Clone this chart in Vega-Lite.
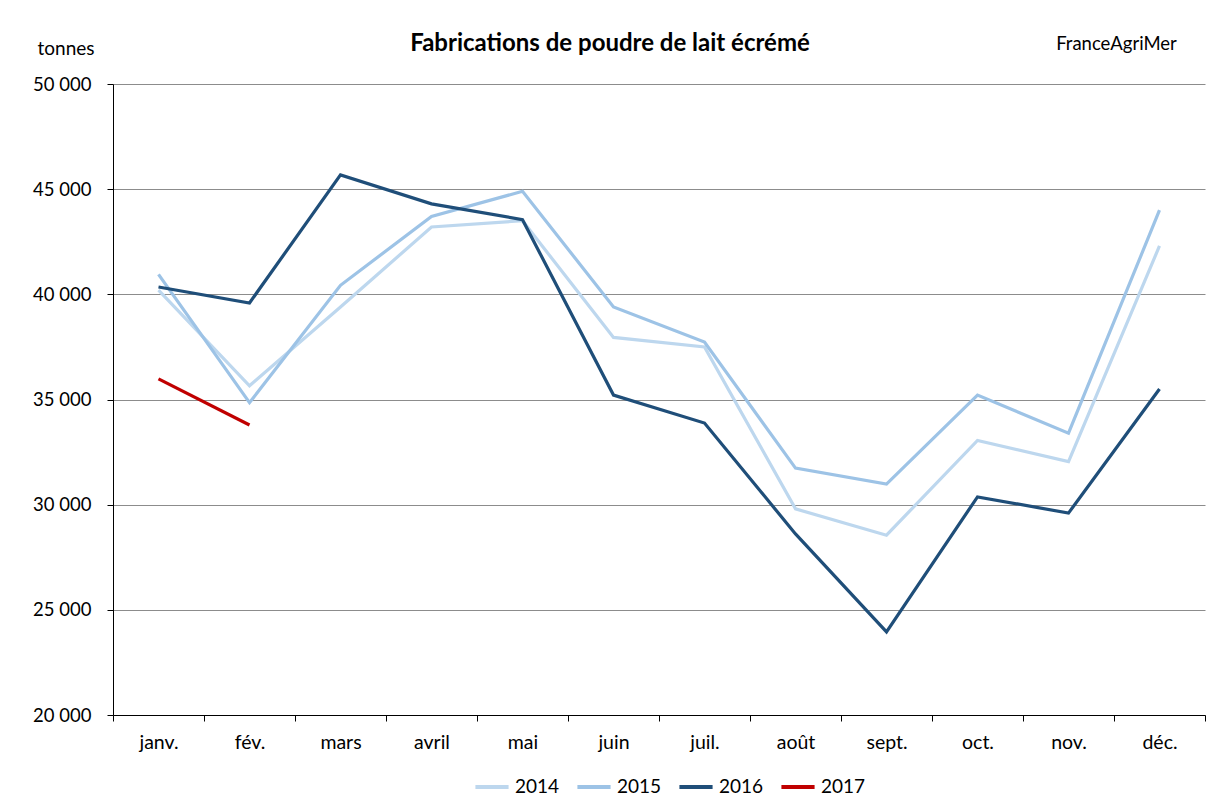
{
  "$schema": "https://vega.github.io/schema/vega-lite/v6.json",
  "width": 1092,
  "height": 631,
  "autosize": {"type": "none"},
  "padding": {"left": 113, "top": 84, "right": 1, "bottom": 92},
  "background": "white",
  "title": {
    "text": "Fabrications de poudre de lait écrémé",
    "font": "Lato",
    "fontSize": 24,
    "fontWeight": "bold",
    "color": "#000000",
    "anchor": "middle",
    "dx": -49,
    "offset": -22
  },
  "data": {
    "values": [
      {"mois": "janv.", "annee": "2014", "v": 40200},
      {"mois": "fév.", "annee": "2014", "v": 35650},
      {"mois": "mars", "annee": "2014", "v": 39400},
      {"mois": "avril", "annee": "2014", "v": 43200},
      {"mois": "mai", "annee": "2014", "v": 43500},
      {"mois": "juin", "annee": "2014", "v": 37950},
      {"mois": "juil.", "annee": "2014", "v": 37500},
      {"mois": "août", "annee": "2014", "v": 29800},
      {"mois": "sept.", "annee": "2014", "v": 28550},
      {"mois": "oct.", "annee": "2014", "v": 33050},
      {"mois": "nov.", "annee": "2014", "v": 32050},
      {"mois": "déc.", "annee": "2014", "v": 42300},
      {"mois": "janv.", "annee": "2015", "v": 40950},
      {"mois": "fév.", "annee": "2015", "v": 34850},
      {"mois": "mars", "annee": "2015", "v": 40430},
      {"mois": "avril", "annee": "2015", "v": 43700},
      {"mois": "mai", "annee": "2015", "v": 44900},
      {"mois": "juin", "annee": "2015", "v": 39400},
      {"mois": "juil.", "annee": "2015", "v": 37730},
      {"mois": "août", "annee": "2015", "v": 31740},
      {"mois": "sept.", "annee": "2015", "v": 30980},
      {"mois": "oct.", "annee": "2015", "v": 35210},
      {"mois": "nov.", "annee": "2015", "v": 33400},
      {"mois": "déc.", "annee": "2015", "v": 44000},
      {"mois": "janv.", "annee": "2016", "v": 40350},
      {"mois": "fév.", "annee": "2016", "v": 39590},
      {"mois": "mars", "annee": "2016", "v": 45680},
      {"mois": "avril", "annee": "2016", "v": 44300},
      {"mois": "mai", "annee": "2016", "v": 43550},
      {"mois": "juin", "annee": "2016", "v": 35210},
      {"mois": "juil.", "annee": "2016", "v": 33880},
      {"mois": "août", "annee": "2016", "v": 28610},
      {"mois": "sept.", "annee": "2016", "v": 23950},
      {"mois": "oct.", "annee": "2016", "v": 30370},
      {"mois": "nov.", "annee": "2016", "v": 29600},
      {"mois": "déc.", "annee": "2016", "v": 35500},
      {"mois": "janv.", "annee": "2017", "v": 35980},
      {"mois": "fév.", "annee": "2017", "v": 33790}
    ]
  },
  "mark": {"type": "line", "strokeWidth": 3.2, "strokeCap": "butt", "strokeJoin": "miter"},
  "encoding": {
    "x": {
      "field": "mois",
      "type": "ordinal",
      "sort": ["janv.", "fév.", "mars", "avril", "mai", "juin", "juil.", "août", "sept.", "oct.", "nov.", "déc."],
      "scale": {"type": "band", "paddingInner": 0, "paddingOuter": 0},
      "axis": {
        "title": "FranceAgriMer",
        "titleFont": "Lato",
        "titleFontSize": 18.5,
        "titleFontWeight": "normal",
        "titleColor": "#000000",
        "titleX": 1003,
        "titleY": -672,
        "titleBaseline": "middle",
        "titleAlign": "center",
        "labelAngle": 0,
        "labelFont": "Lato",
        "labelFontSize": 19.5,
        "labelColor": "#000000",
        "labelPadding": 12,
        "tickBand": "extent",
        "tickSize": 6,
        "tickColor": "#000000",
        "domainColor": "#000000",
        "grid": false
      }
    },
    "y": {
      "field": "v",
      "type": "quantitative",
      "scale": {"domain": [20000, 50000], "nice": false, "zero": false},
      "axis": {
        "values": [20000, 25000, 30000, 35000, 40000, 45000, 50000],
        "labelExpr": "replace(format(datum.value, ','), ',', ' ')",
        "title": "tonnes",
        "titleFont": "Lato",
        "titleFontSize": 19,
        "titleFontWeight": "normal",
        "titleColor": "#000000",
        "titleAngle": 0,
        "titleX": -76,
        "titleY": -36,
        "titleAlign": "left",
        "titleBaseline": "middle",
        "labelFont": "Lato",
        "labelFontSize": 18.5,
        "labelColor": "#000000",
        "labelPadding": 16,
        "tickSize": 6,
        "tickColor": "#000000",
        "domainColor": "#000000",
        "grid": true,
        "gridColor": "#8c8c8c",
        "gridWidth": 1
      }
    },
    "color": {
      "field": "annee",
      "type": "nominal",
      "scale": {
        "domain": ["2014", "2015", "2016", "2017"],
        "range": ["#bdd7ee", "#9dc3e6", "#1f4e79", "#c00000"]
      },
      "legend": {
        "title": null,
        "orient": "none",
        "legendX": 360,
        "legendY": 684,
        "direction": "horizontal",
        "symbolType": "stroke",
        "symbolStrokeWidth": 4,
        "symbolSize": 1100,
        "labelFont": "Lato",
        "labelFontSize": 19,
        "labelColor": "#000000",
        "labelOffset": 4,
        "columnPadding": 9
      }
    }
  },
  "config": {
    "view": {"stroke": null},
    "axis": {"domainWidth": 1, "tickWidth": 1}
  }
}
